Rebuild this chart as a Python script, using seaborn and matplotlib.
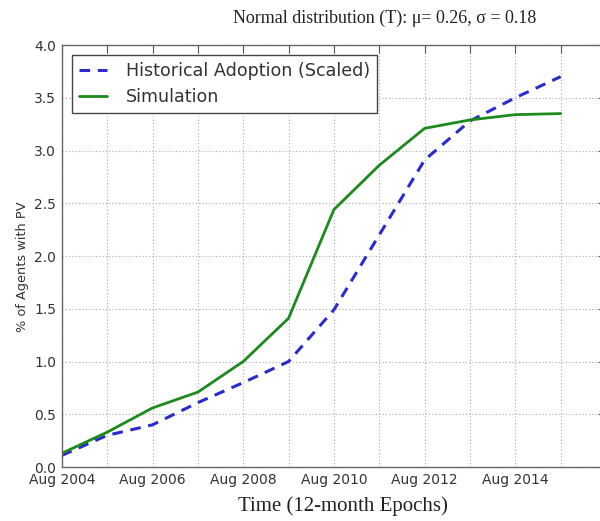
import matplotlib
matplotlib.use("Agg")
import matplotlib.pyplot as plt
import numpy as np
import pandas as pd
import seaborn as sns

years = list(range(2004, 2016))
historical = [0.11, 0.30, 0.40, 0.61, 0.80, 1.00, 1.49, 2.20, 2.91, 3.28, 3.50, 3.70]
simulation = [0.13, 0.33, 0.56, 0.71, 1.00, 1.41, 2.44, 2.86, 3.21, 3.29, 3.34, 3.35]
tick_years = list(range(2004, 2017))
tick_labels = [f"Aug {y}" if y % 2 == 0 and y < 2016 else "" for y in tick_years]
y_ticks = [0.0, 0.5, 1.0, 1.5, 2.0, 2.5, 3.0, 3.5, 4.0]

df = pd.DataFrame({"year": years, "Historical Adoption (Scaled)": historical, "Simulation": simulation})

sns.set_style("white")
plt.rcParams["font.family"] = ["DejaVu Sans"]

fig = plt.figure(figsize=(6.0, 5.21), dpi=100)
ax = fig.add_axes([0.103, 0.1036, 0.907, 0.81])

sns.lineplot(data=df, x="year", y="Historical Adoption (Scaled)", ax=ax, color="#2a2ad0",
             linewidth=2.2, linestyle=(0, (3.5, 2.5)), label="Historical Adoption (Scaled)")
sns.lineplot(data=df, x="year", y="Simulation", ax=ax, color="#1c8a1c",
             linewidth=2.0, label="Simulation")

ax.set_xlim(2004, 2016)
ax.set_ylim(0, 4.0)
ax.set_xticks(tick_years)
ax.set_xticklabels(tick_labels)
ax.set_yticks(y_ticks)
ax.set_yticklabels([f"{v:.1f}" for v in y_ticks])
ax.tick_params(direction="in", top=True, right=True, length=6, width=0.8,
               labelsize=10, labelcolor="#333333", color="#555555", pad=4)
ax.grid(True, linestyle=(0, (1, 2)), color="#aaaaaa", linewidth=0.8)
for s in ax.spines.values():
    s.set_color("#666666")
    s.set_linewidth(1.0)

# label positions in pixel terms of the 600x521 reference
ax.set_xlabel("Time (12-month Epochs)", family="Liberation Serif", fontsize=15, color="#222222")
ax.xaxis.set_label_coords((343 - 62) / 544, -(496 - 467) / 422, transform=ax.transAxes)
ax.set_ylabel("% of Agents with PV", fontsize=9.3, color="#333333")
ax.yaxis.set_label_coords(-(62 - 29) / 544, (467 - 267) / 422, transform=ax.transAxes)
fig.text(385 / 600, 1 - 18 / 521, "Normal distribution (T): \u03bc= 0.26, \u03c3 = 0.18", family="Liberation Serif",
         fontsize=13, color="#222222", ha="center", va="center")

leg = ax.legend(loc="upper left", bbox_to_anchor=((72 - 62) / 544, (467 - 55) / 422), borderaxespad=0,
                fontsize=12.6, fancybox=False, framealpha=1, edgecolor="#444444", handlelength=1.6,
                handletextpad=1.1, borderpad=0.4, labelspacing=0.45)
leg.get_frame().set_linewidth(1.0)
for t in leg.get_texts():
    t.set_color("#333333")

fig.savefig("out.png", dpi=100)
